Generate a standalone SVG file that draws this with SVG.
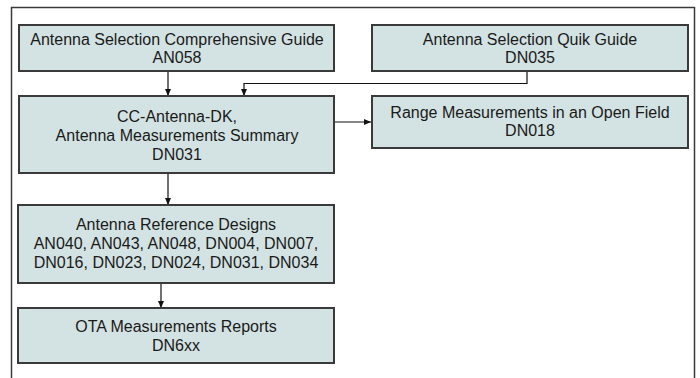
<svg xmlns="http://www.w3.org/2000/svg" width="700" height="378" viewBox="0 0 700 378">
<style>
.box{fill:#d3e2e2;stroke:#3a3a3a;stroke-width:2}
.t{font-family:"Liberation Sans",Arial,sans-serif;font-size:16px;fill:#1a1a1a;text-anchor:middle}
.c{fill:none;stroke:#111;stroke-width:1.2}
</style>
<defs>
<marker id="ah" markerWidth="7" markerHeight="6" refX="7" refY="3" orient="auto" markerUnits="userSpaceOnUse">
<path d="M0,0 L7,3 L0,6 Z" fill="#111"/>
</marker>
</defs>
<rect width="700" height="378" fill="#fff"/>
<path d="M11.5,378 V7.5 H694.5 V378" fill="none" stroke="#3a3a3a" stroke-width="1.5"/>
<g id="connectors">
<path class="c" d="M168,72 V96" marker-end="url(#ah)"/>
<path class="c" d="M527,72 V83.5 H244 V96" marker-end="url(#ah)"/>
<path class="c" d="M335,122 H371" marker-end="url(#ah)"/>
<path class="c" d="M168,174 V205" marker-end="url(#ah)"/>
<path class="c" d="M161,284 V308" marker-end="url(#ah)"/>
</g>
<g id="n1">
<rect class="box" x="19" y="25" width="315" height="46"/>
<text class="t" x="177" y="45">Antenna Selection Comprehensive Guide</text>
<text class="t" x="177" y="63">AN058</text>
</g>
<g id="n2">
<rect class="box" x="372" y="25" width="316" height="46"/>
<text class="t" x="530" y="45">Antenna Selection Quik Guide</text>
<text class="t" x="530" y="63">DN035</text>
</g>
<g id="n3">
<rect class="box" x="19" y="96" width="315" height="77"/>
<text class="t" x="177" y="122">CC-Antenna-DK,</text>
<text class="t" x="177" y="141">Antenna Measurements Summary</text>
<text class="t" x="177" y="160">DN031</text>
</g>
<g id="n4">
<rect class="box" x="372" y="96" width="316" height="52"/>
<text class="t" x="530" y="118">Range Measurements in an Open Field</text>
<text class="t" x="530" y="136">DN018</text>
</g>
<g id="n5">
<rect class="box" x="18" y="205" width="316" height="78"/>
<text class="t" x="176" y="230">Antenna Reference Designs</text>
<text class="t" x="176" y="249">AN040, AN043, AN048, DN004, DN007,</text>
<text class="t" x="176" y="268">DN016, DN023, DN024, DN031, DN034</text>
</g>
<g id="n6">
<rect class="box" x="18" y="308" width="316" height="55"/>
<text class="t" x="176" y="332">OTA Measurements Reports</text>
<text class="t" x="176" y="351">DN6xx</text>
</g>
</svg>
